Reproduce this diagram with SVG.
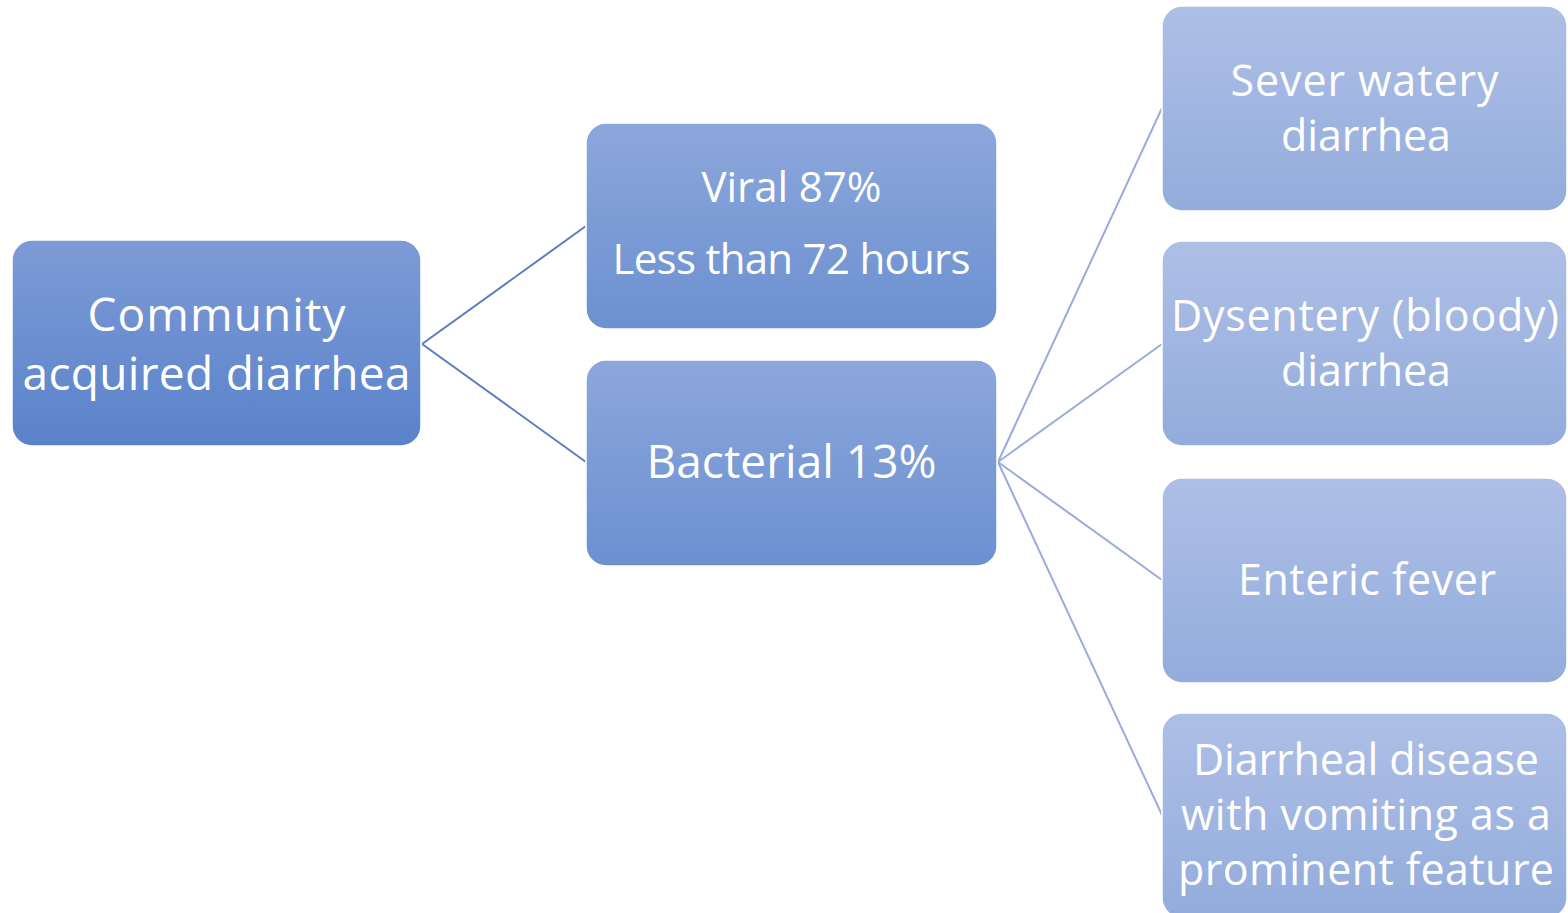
<svg xmlns="http://www.w3.org/2000/svg" width="1568" height="913" viewBox="0 0 1568 913">
  <defs>
    <linearGradient id="gRoot" x1="0" y1="0" x2="0" y2="1">
      <stop offset="0" stop-color="#7d9bd6"/>
      <stop offset="1" stop-color="#5a82ca"/>
    </linearGradient>
    <linearGradient id="gMid" x1="0" y1="0" x2="0" y2="1">
      <stop offset="0" stop-color="#8ca7dc"/>
      <stop offset="1" stop-color="#6c90d0"/>
    </linearGradient>
    <linearGradient id="gLeaf" x1="0" y1="0" x2="0" y2="1">
      <stop offset="0" stop-color="#aebfe6"/>
      <stop offset="1" stop-color="#93acdc"/>
    </linearGradient>
    <style>
      .box { stroke: #ffffff; stroke-width: 1.5; }
      .root { fill: url(#gRoot); }
      .mid { fill: url(#gMid); }
      .leaf { fill: url(#gLeaf); }
      text { font-family: "Open Sans", "Noto Sans", "Liberation Sans", sans-serif; fill: #ffffff; text-anchor: middle; }
      .t1 { font-size: 46px; }
      .t2 { font-size: 42px; }
      .t3 { font-size: 43px; }
      .c1 { stroke: #5b7cc4; stroke-width: 2; fill: none; }
      .c2 { stroke: #98acdc; stroke-width: 2; fill: none; }
    </style>
  </defs>

  <!-- connectors -->
  <g id="connectors">
    <path class="c1" d="M422 344 L586 226"/>
    <path class="c1" d="M422 344 L586 462"/>
    <path class="c2" d="M998 462 L1162 108"/>
    <path class="c2" d="M998 462 L1162 344"/>
    <path class="c2" d="M998 462 L1162 580"/>
    <path class="c2" d="M998 462 L1162 815"/>
  </g>

  <g id="root">
    <rect class="box root" x="12" y="240" width="409" height="206" rx="20"/>
    <text class="t1" x="216.5" y="331" textLength="258">Community</text>
    <text class="t1" x="216.5" y="390" textLength="388">acquired diarrhea</text>
  </g>

  <g id="viral">
    <rect class="box mid" x="586" y="123" width="411" height="206" rx="20"/>
    <text class="t2" x="791.5" y="202" textLength="180">Viral 87%</text>
    <text class="t2" x="791.5" y="274" textLength="358">Less than 72 hours</text>
  </g>

  <g id="bacterial">
    <rect class="box mid" x="586" y="360" width="411" height="206" rx="20"/>
    <text class="t1" x="791.5" y="478" textLength="290">Bacterial 13%</text>
  </g>

  <g id="watery">
    <rect class="box leaf" x="1162" y="6" width="405" height="205" rx="20"/>
    <text class="t3" x="1364.5" y="96" textLength="268">Sever watery</text>
    <text class="t3" x="1366" y="151" textLength="170">diarrhea</text>
  </g>

  <g id="dysentery">
    <rect class="box leaf" x="1162" y="241" width="405" height="205" rx="20"/>
    <text class="t3" x="1365" y="331" textLength="388">Dysentery (bloody)</text>
    <text class="t3" x="1366" y="386" textLength="170">diarrhea</text>
  </g>

  <g id="enteric">
    <rect class="box leaf" x="1162" y="478" width="405" height="205" rx="20"/>
    <text class="t3" x="1367" y="595" textLength="258">Enteric fever</text>
  </g>

  <g id="vomiting">
    <rect class="box leaf" x="1162" y="713" width="405" height="205" rx="20"/>
    <text class="t3" x="1366" y="775" textLength="346">Diarrheal disease</text>
    <text class="t3" x="1366" y="830" textLength="370">with vomiting as a</text>
    <text class="t3" x="1366" y="885" textLength="376">prominent feature</text>
  </g>
</svg>
